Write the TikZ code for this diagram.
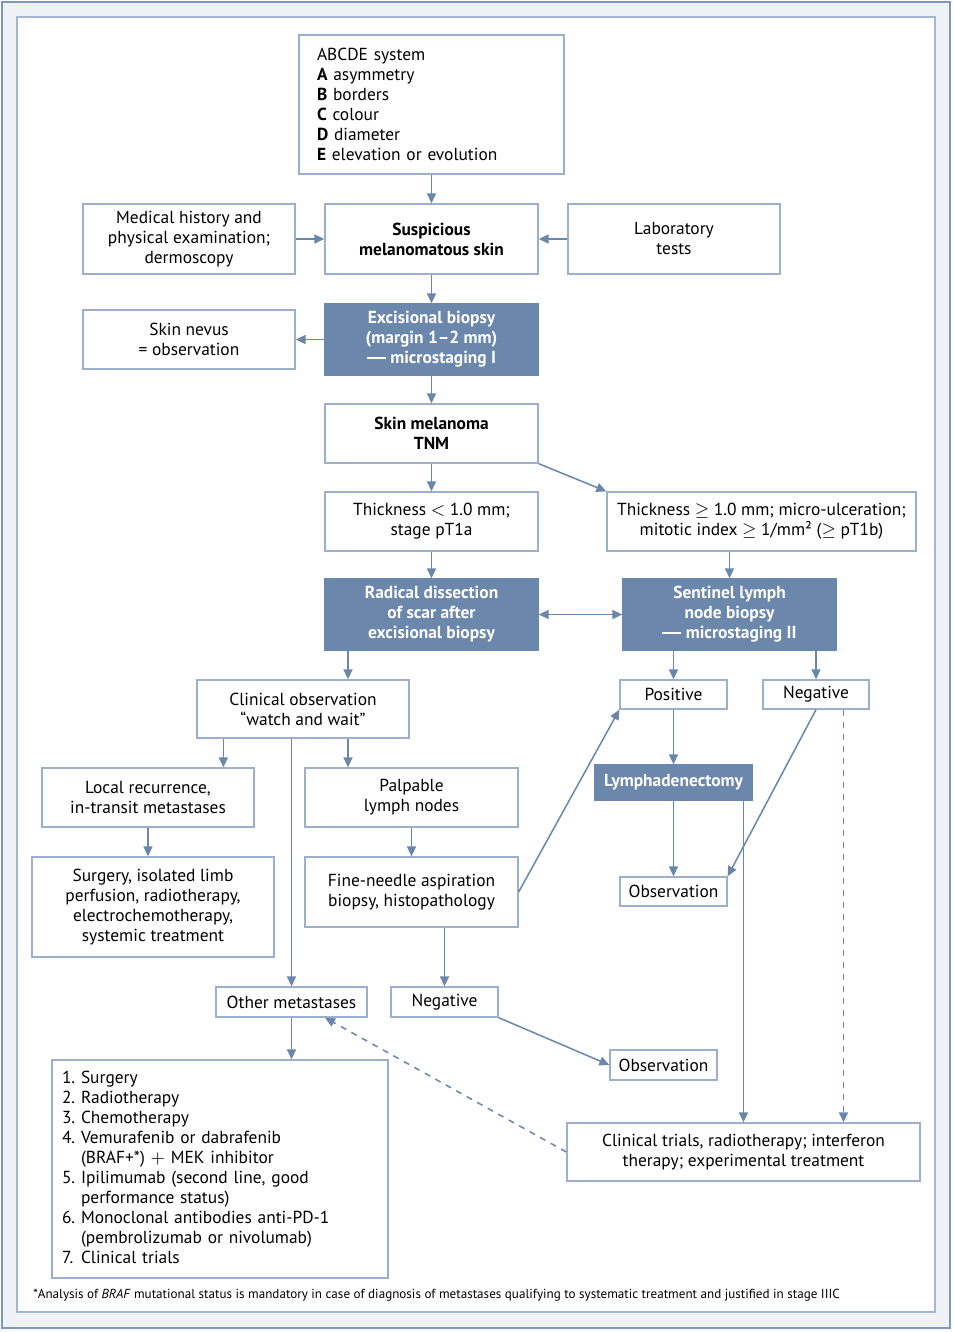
\documentclass[tikz,border=0pt]{standalone}
\usepackage{fontspec}
\setmainfont{PT Sans}
\usepackage{tikz}
\usetikzlibrary{arrows.meta,calc}

\definecolor{blueboxfill}{HTML}{6B87AB}
\definecolor{boxline}{HTML}{9DAFCB}
\definecolor{arrowblue}{HTML}{6A86AA}
\definecolor{panelbg}{HTML}{EEF1F5}
\definecolor{panelline}{HTML}{7F97BA}

\newcommand{\longdash}{\rule[2.5pt]{9.5pt}{0.75pt}}

\begin{document}
\begin{tikzpicture}[x=0.5pt,y=-0.5pt,
        sz/.style 2 args={minimum width=#1*0.5pt, minimum height=#2*0.5pt},
        wbox/.style={draw=boxline, fill=white, line width=0.65pt, inner sep=0pt, align=center,
                font=\fontsize{8.7}{10}\selectfont},
        bbox/.style={wbox, draw=blueboxfill, fill=blueboxfill, text=white,
                font=\fontsize{8.7}{10}\selectfont\bfseries},
        arr/.style={draw=arrowblue, line width=0.75pt, -{Triangle[length=5pt,width=4.5pt]}},
        darr/.style={arr, dashed}]

	% frame
	\useasboundingbox (0,0) rectangle (953,1332);
	\draw[draw=panelline, fill=panelbg, line width=0.7pt] (2,2) rectangle (950,1328);
	\draw[draw=panelline!70, fill=white, line width=0.6pt] (17,17) rectangle (935,1312);

	% top part
	\node[wbox, sz={265}{139}, align=left, text width=114.5pt, inner xsep=9pt] (abcde) at (431.5,104.5)
		{ABCDE system\\ \textbf{A} asymmetry\\ \textbf{B} borders\\ \textbf{C} colour\\ \textbf{D} diameter\\ \textbf{E} elevation or evolution};
	\node[wbox, sz={212}{70}] (hist) at (189,239) {Medical history and\\ physical examination;\\ dermoscopy};
	\node[wbox, sz={213}{70}, font=\fontsize{8.7}{10}\selectfont\bfseries] (susp) at (431.5,239) {Suspicious\\ melanomatous skin};
	\node[wbox, sz={212}{70}] (lab) at (674,239) {Laboratory\\ tests};
	\node[wbox, sz={212}{59}] (nevus) at (189,339.5) {Skin nevus\\ = observation};
	\node[bbox, sz={213}{71}] (exc) at (431.5,339.5) {Excisional biopsy\\ (margin 1--2 mm)\\ \longdash\ microstaging I};
	\node[wbox, sz={213}{59}, font=\fontsize{8.7}{10}\selectfont\bfseries] (mel) at (431.5,433.5) {Skin melanoma\\ TNM};
	\node[wbox, sz={213}{59}] (thin) at (431.5,521.5) {Thickness $<$ 1.0 mm;\\ stage pT1a};
	\node[wbox, sz={309}{59}] (thick) at (761.5,521.5) {Thickness $\geq$ 1.0 mm; micro-ulceration;\\ mitotic index $\geq$ 1/mm² ($\geq$ pT1b)};
	\node[bbox, sz={213}{71}] (rad) at (431.5,614.5) {Radical dissection\\ of scar after\\ excisional biopsy};
	\node[bbox, sz={213}{71}] (sln) at (729.5,614.5) {Sentinel lymph\\ node biopsy\\ \longdash\ microstaging II};

	% lower left branch
	\node[wbox, sz={212}{58}] (clin) at (303,709) {Clinical observation\\ “watch and wait"};
	\node[wbox, sz={212}{59}] (local) at (148,797.5) {Local recurrence,\\ in-transit metastases};
	\node[wbox, sz={213}{59}] (palp) at (411.5,797.5) {Palpable\\ lymph nodes};
	\node[wbox, sz={242}{100}] (surg) at (153,907) {Surgery, isolated limb\\ perfusion, radiotherapy,\\ electrochemotherapy,\\ systemic treatment};
	\node[wbox, sz={213}{70}] (fna) at (411.5,892) {Fine-needle aspiration\\ biopsy, histopathology};
	\node[wbox, sz={151}{30}] (other) at (291.5,1002) {Other metastases};
	\node[wbox, sz={107}{30}] (negM) at (444.5,1002) {Negative};
	\node[wbox, sz={107}{30}] (obsL) at (663.5,1065) {Observation};
	\node[wbox, sz={336}{218}, align=left, text width=158pt, inner xsep=5pt] (list) at (220,1169) {%
		\begin{tabular}{@{}l@{\ }l@{}}
		1. & Surgery\\
		2. & Radiotherapy\\
		3. & Chemotherapy\\
		4. & Vemurafenib or dabrafenib\\
		   & (BRAF+*) $+$ MEK inhibitor\\
		5. & Ipilimumab (second line, good\\
		   & performance status)\\
		6. & Monoclonal antibodies anti-PD-1\\
		   & (pembrolizumab or nivolumab)\\
		7. & Clinical trials
		\end{tabular}};

	% right branch
	\node[wbox, sz={107}{29}] (pos) at (673.5,694.5) {Positive};
	\node[wbox, sz={106}{29}] (negR) at (816,694.5) {Negative};
	\node[bbox, sz={157}{35}] (lymph) at (673.5,782.5) {Lymphadenectomy};
	\node[wbox, sz={107}{29}] (obsR) at (673.5,891.5) {Observation};
	\node[wbox, sz={353}{58}] (trials) at (743.5,1152) {Clinical trials, radiotherapy; interferon\\ therapy; experimental treatment};

	\node[anchor=west, inner sep=0pt, font=\fontsize{6.55}{7.5}\selectfont] (note) at (33,1295)
		{*Analysis of \textit{BRAF} mutational status is mandatory in case of diagnosis of metastases qualifying to systematic treatment and justified in stage IIIC};

	% helper points
	\coordinate (c1) at ([xshift=22.5pt]clin.north);
	\coordinate (c2) at ([xshift=13.5pt]clin.south west);
	\coordinate (c3) at ([xshift=50pt]trials.north);
	\coordinate (c4) at ([xshift=16.75pt]other.south);

	% connectors
	\draw[arr] (abcde) -- (susp);
	\draw[arr] (hist) -- (susp);
	\draw[arr] (lab) -- (susp);
	\draw[arr] (susp) -- (exc);
	\draw[arr] (exc) -- (nevus);
	\draw[arr] (exc) -- (mel);
	\draw[arr] (mel) -- (thin);
	\draw[arr] (mel.south east) -- (thick.north west);
	\draw[arr] (thin) -- (rad);
	\draw[arr] (sln.north |- thick.south) -- (sln.north);
	\draw[arr, {Triangle[length=5pt,width=4.5pt]}-{Triangle[length=5pt,width=4.5pt]}] (rad) -- (sln);
	\draw[arr] (c1 |- rad.south) -- (c1);
	\draw[arr] (sln.south -| pos.north) -- (pos.north);
	\draw[arr] (sln.south -| negR.north) -- (negR.north);
	\draw[arr] (pos) -- (lymph);
	\draw[arr] (lymph) -- (obsR);
	\draw[arr] (lymph.south -| trials.north) -- (trials.north);
	\draw[arr] (negR.south) -- (obsR.north east);
	\draw[darr] (negR.south -| c3) -- (c3);
	\draw[arr] (c2) -- (c2 |- local.north);
	\draw[arr] (c1 |- clin.south) -- (c1 |- palp.north);
	\draw[arr] (clin.south -| other.north) -- (other.north);
	\draw[arr] (local.south) -- (local.south |- surg.north);
	\draw[arr] (palp) -- (fna);
	\draw[arr] (fna.east) -- (pos.south west);
	\draw[arr] (fna.south -| negM.north) -- (negM.north);
	\draw[arr] (negM.south east) -- (obsL.west);
	\draw[arr] (other.south) -- (other.south |- list.north);
	\draw[darr] (trials.west) -- (c4);

\end{tikzpicture}
\end{document}
